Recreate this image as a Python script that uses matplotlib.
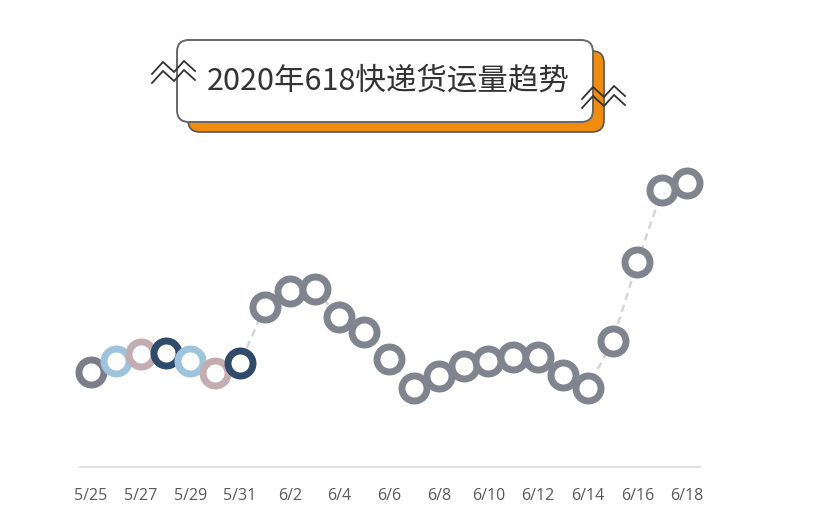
import matplotlib
matplotlib.use('Agg')
import matplotlib.pyplot as plt
from matplotlib.patches import FancyBboxPatch

plt.rcParams['font.family'] = ['Noto Sans CJK SC', 'DejaVu Sans']

dates = ['5/25', '5/26', '5/27', '5/28', '5/29', '5/30', '5/31',
         '6/1', '6/2', '6/3', '6/4', '6/5', '6/6', '6/7', '6/8', '6/9',
         '6/10', '6/11', '6/12', '6/13', '6/14', '6/15', '6/16', '6/17', '6/18']
volume = [1.90, 2.12, 2.26, 2.28, 2.12, 1.88, 2.08,
          3.20, 3.52, 3.56, 3.00, 2.70, 2.16, 1.58, 1.82, 2.02,
          2.12, 2.20, 2.20, 1.84, 1.58, 2.52, 4.10, 5.54, 5.68]
title = '2020年618快递货运量趋势'

# first week gets its own colour cycle, the rest are plain grey
first_week_colors = ['#7b7e89', '#9ec4dd', '#c3adb0', '#2f4a6a',
                     '#9ec4dd', '#c3adb0', '#2f4a6a']
grey = '#80848e'
colors = first_week_colors + [grey] * (len(dates) - len(first_week_colors))

W, H = 838, 518
fig = plt.figure(figsize=(W / 100, H / 100), dpi=100)

# background layer in pixel coordinates for the title decoration
bg = fig.add_axes([0, 0, 1, 1])
bg.set_xlim(0, W)
bg.set_ylim(H, 0)
bg.axis('off')

shadow = FancyBboxPatch((188, 51), 416, 81, boxstyle='round,pad=0,rounding_size=12',
                        facecolor='#f28c0f', edgecolor='#555555', linewidth=1.2)
box = FancyBboxPatch((177, 40), 416, 82, boxstyle='round,pad=0,rounding_size=12',
                     facecolor='white', edgecolor='#666666', linewidth=1.4)
bg.add_patch(shadow)
bg.add_patch(box)
bg.text(388, 81, title, fontsize=22, color='#333333', ha='center', va='center')

zig_x = [0, 11, 22, 32, 43]
zig_y = [0, -12, -2, -13, -3]
for x0, y0 in [(152, 74), (582, 99)]:
    for dy in (0, 9):
        bg.plot([x0 + v for v in zig_x], [y0 + dy + v for v in zig_y],
                color='#333333', linewidth=1.3, solid_joinstyle='miter')

# main chart
ax = fig.add_axes([80 / W, (H - 467) / H, 620 / W, 317 / H])
ax.patch.set_alpha(0)
x = list(range(len(dates)))
ax.plot(x, volume, color='#d6d6d6', linewidth=1.8, linestyle=(0, (3, 2)), zorder=1)
for xi, yi, c in zip(x, volume, colors):
    ax.plot(xi, yi, marker='o', markersize=18, markerfacecolor='white',
            markeredgecolor=c, markeredgewidth=5, zorder=3, clip_on=False)

ax.set_xlim(-0.443, 24.52)
ax.set_ylim(0, 6.34)
ax.set_xticks(x[::2])
ax.set_xticklabels(dates[::2], fontsize=11.5, color='#595959', family=['Open Sans', 'DejaVu Sans'])
ax.tick_params(axis='x', length=0, pad=15)
ax.set_yticks([])
for side in ['top', 'right', 'left']:
    ax.spines[side].set_visible(False)
ax.spines['bottom'].set_color('#d9d9d9')
ax.spines['bottom'].set_linewidth(1.2)

fig.savefig('out.png', dpi=100)
